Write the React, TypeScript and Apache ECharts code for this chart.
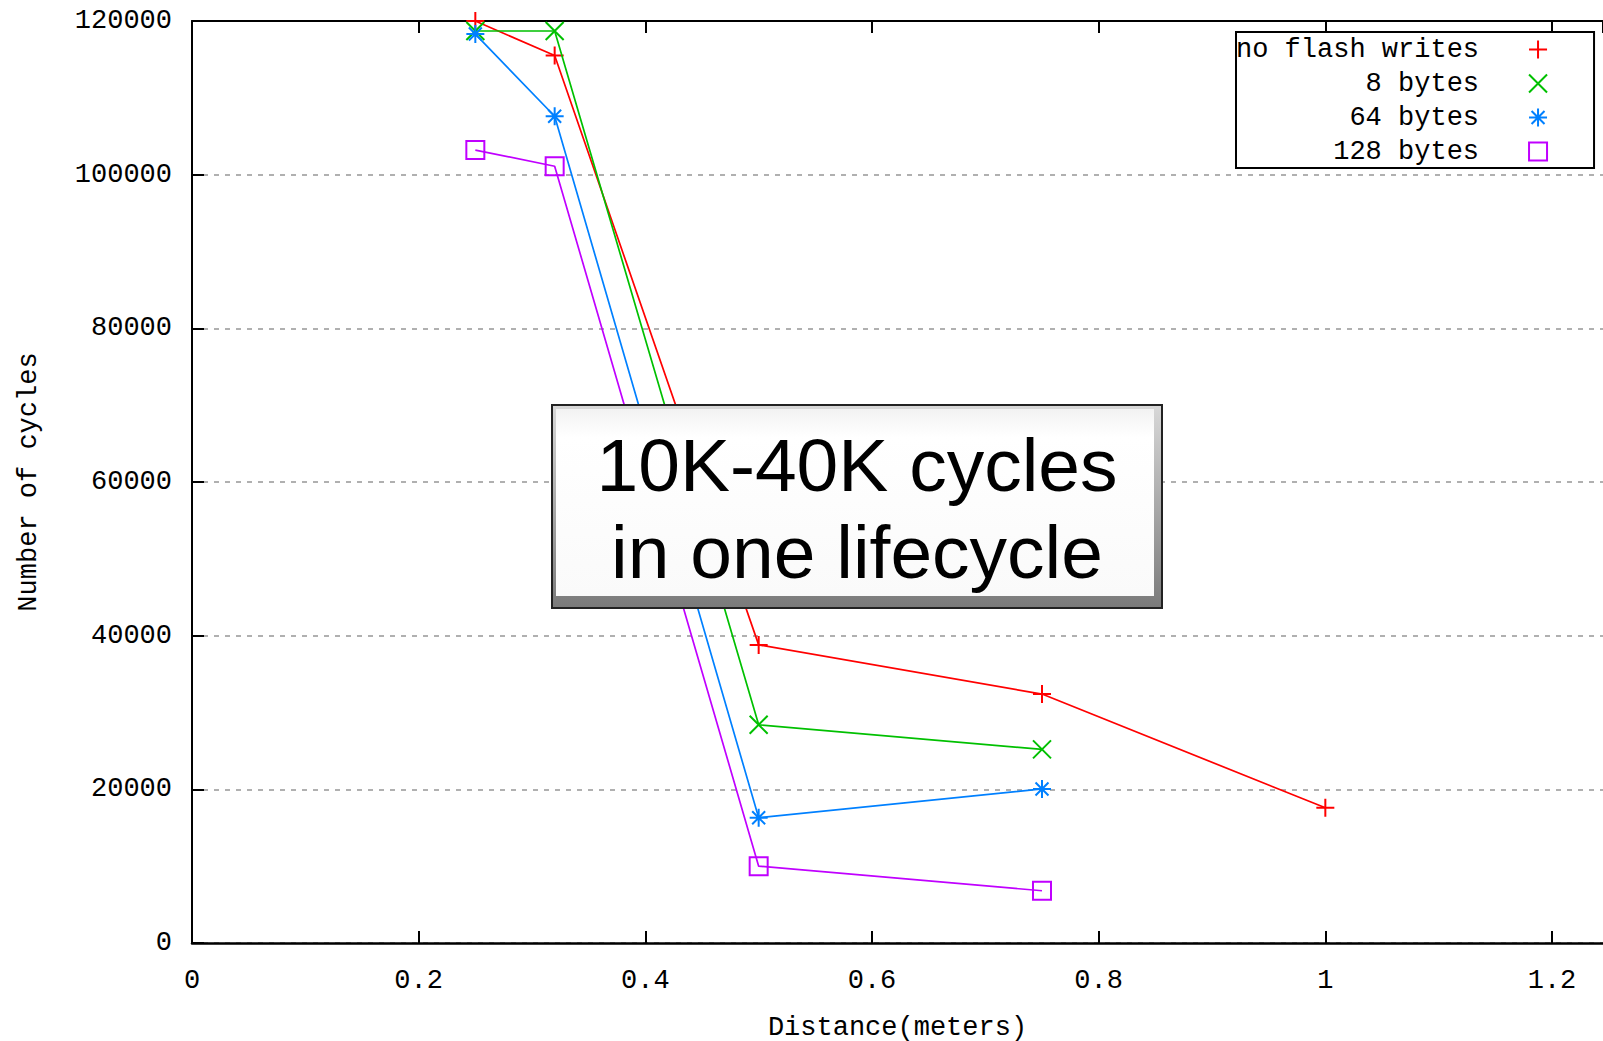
import React, { useEffect, useRef } from "react";
import * as echarts from "echarts";

const distances = [0.25, 0.32, 0.5, 0.75, 1.0];
const seriesNames = ["no flash writes", "8 bytes", "64 bytes", "128 bytes"];
const noFlashWrites = [120000, 115500, 38800, 32400, 17600];
const bytes8 = [118700, 118700, 28400, 25200];
const bytes64 = [118300, 107600, 16300, 20050];
const bytes128 = [103200, 101100, 10000, 6800];
const xTicks = [0, 0.2, 0.4, 0.6, 0.8, 1, 1.2];
const yTicks = [0, 20000, 40000, 60000, 80000, 100000, 120000];
const annotationLines = ["10K-40K cycles", "in one lifecycle"];

const colors = ["#ff0000", "#00c000", "#0080ff", "#c000ff"];
const symbols = [
  "path://M0,-1L0,1M-1,0L1,0",
  "path://M-1,-1L1,1M-1,1L1,-1",
  "path://M0,-1L0,1M-1,0L1,0M-0.72,-0.72L0.72,0.72M-0.72,0.72L0.72,-0.72",
  "path://M-1,-1L1,-1L1,1L-1,1Z",
];

const MONO = "'Liberation Mono', 'DejaVu Sans Mono', monospace";

export default function App() {
  const ref = useRef<HTMLDivElement>(null);
  useEffect(() => {
    if (!ref.current) return;
    const chart = echarts.init(ref.current, null, { renderer: "svg" });
    const values = [noFlashWrites, bytes8, bytes64, bytes128];
    const series = values.map((vals, i) => ({
      name: seriesNames[i],
      type: "line",
      data: vals.map((v, j) => [distances[j], v]),
      symbol: symbols[i],
      symbolSize: 18,
      symbolKeepAspect: true,
      showAllSymbol: true,
      lineStyle: { color: colors[i], width: 1.7 },
      itemStyle: { color: "rgba(0,0,0,0)", borderColor: colors[i], borderWidth: 2 },
      emphasis: { disabled: true },
      z: 2 + i,
    }));
    const xMin = xTicks[0];
    const yMax = yTicks[yTicks.length - 1];
    chart.setOption({
      animation: false,
      backgroundColor: "#ffffff",
      textStyle: { fontFamily: MONO },
      grid: {
        left: 192,
        right: 0,
        top: 21,
        bottom: 98,
        containLabel: false,
        outerBoundsMode: "none",
      },
      xAxis: [
        {
          type: "value",
          min: xMin,
          max: 1.245,
          interval: 0.2,
          position: "bottom",
          name: "Distance(meters)",
          nameLocation: "middle",
          nameGap: 71,
          nameTextStyle: { fontFamily: MONO, fontSize: 27, color: "#000" },
          axisLine: { lineStyle: { color: "#000", width: 2.5 } },
          axisTick: { inside: true, length: 12, lineStyle: { color: "#000", width: 2 } },
          axisLabel: {
            margin: 24,
            fontFamily: MONO,
            fontSize: 27,
            color: "#000",
            showMaxLabel: false,
            formatter: (v: number) => String(Math.round(v * 10) / 10),
          },
          splitLine: { show: false },
        },
        {
          type: "value",
          min: xMin,
          max: 1.245,
          interval: 0.2,
          position: "top",
          axisLine: { lineStyle: { color: "#000", width: 2 } },
          axisTick: { inside: true, length: 12, lineStyle: { color: "#000", width: 2 } },
          axisLabel: { show: false },
          splitLine: { show: false },
        },
      ],
      yAxis: {
        type: "value",
        min: 0,
        max: yMax,
        interval: 20000,
        name: "Number of cycles",
        nameLocation: "middle",
        nameRotate: 90,
        nameGap: 150,
        nameTextStyle: { fontFamily: MONO, fontSize: 27, color: "#000" },
        axisLine: { show: true, lineStyle: { color: "#000", width: 2 } },
        axisTick: { show: true, inside: true, length: 12, lineStyle: { color: "#000", width: 2 } },
        axisLabel: {
          margin: 20,
          fontFamily: MONO,
          fontSize: 27,
          color: "#000",
          formatter: (v: number) => String(v),
        },
        splitLine: { show: true, lineStyle: { color: "#b0b0b0", width: 2, type: [5, 6] } },
      },
      legend: {
        orient: "vertical",
        left: 1236,
        top: 32,
        align: "right",
        itemWidth: 108,
        itemHeight: 18,
        itemGap: 7,
        padding: [4, 46, 3, 0],
        borderColor: "#000",
        borderWidth: 2,
        backgroundColor: "#fff",
        selectedMode: false,
        textStyle: { fontFamily: MONO, fontSize: 27, color: "#000", lineHeight: 27 },
        formatter: (name: string) => name.padStart(15, " "),
        data: seriesNames.map((n, i) => ({
          name: n,
          icon: symbols[i],
          itemStyle: { color: "rgba(0,0,0,0)", borderColor: colors[i], borderWidth: 2 },
        })),
      },
      graphic: [
        {
          type: "group",
          z: 100,
          children: [
            {
              type: "rect",
              shape: { x: 552, y: 405, width: 610, height: 203 },
              style: {
                fill: new echarts.graphic.LinearGradient(0, 0, 0, 1, [
                  { offset: 0, color: "#d8d8d8" },
                  { offset: 1, color: "#7a7a7a" },
                ]),
                stroke: "#222",
                lineWidth: 2,
              },
              z: 100,
            },
            {
              type: "rect",
              shape: { x: 556, y: 409, width: 598, height: 187 },
              style: {
                fill: new echarts.graphic.LinearGradient(0, 0, 0, 1, [
                  { offset: 0, color: "#f2f2f2" },
                  { offset: 0.15, color: "#ffffff" },
                  { offset: 1, color: "#fafafa" },
                ]),
              },
              z: 101,
            },
            {
              type: "text",
              x: 857,
              y: 465,
              style: {
                text: annotationLines[0],
                fontFamily: "'Liberation Sans', Arial, sans-serif",
                fontSize: 75,
                fill: "#000",
                align: "center",
                verticalAlign: "middle",
              },
              z: 102,
            },
            {
              type: "text",
              x: 857,
              y: 552,
              style: {
                text: annotationLines[1],
                fontFamily: "'Liberation Sans', Arial, sans-serif",
                fontSize: 75,
                fill: "#000",
                align: "center",
                verticalAlign: "middle",
              },
              z: 102,
            },
          ],
        },
      ],
      series,
    });
    return () => chart.dispose();
  }, []);
  return (
    <div
      ref={ref}
      style={{ position: "fixed", left: 0, top: 0, width: 1603, height: 1041, background: "#fff" }}
    />
  );
}
